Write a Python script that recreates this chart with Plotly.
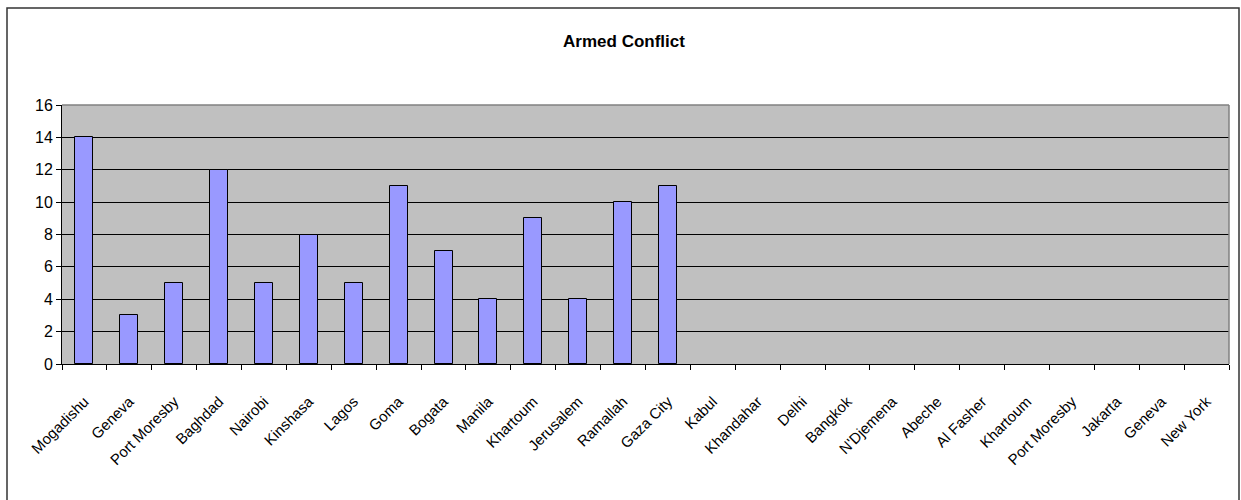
import plotly.graph_objects as go

cities = ["Mogadishu", "Geneva", "Port Moresby", "Baghdad", "Nairobi", "Kinshasa",
          "Lagos", "Goma", "Bogata", "Manila", "Khartoum", "Jerusalem", "Ramallah",
          "Gaza City", "Kabul", "Khandahar", "Delhi", "Bangkok", "N'Djemena", "Abeche",
          "Al Fasher", "Khartoum", "Port Moresby", "Jakarta", "Geneva", "New York"]
values = [14, 3, 5, 12, 5, 8, 5, 11, 7, 4, 9, 4, 10, 11,
          None, None, None, None, None, None, None, None, None, None, None, None]
y_ticks = [0, 2, 4, 6, 8, 10, 12, 14, 16]
title_text = "Armed Conflict"

positions = list(range(len(cities)))
boundaries = [p - 0.5 for p in positions] + [len(cities) - 0.5]

W, H = 1241, 500
L, R, T, B = 62, 12, 105, 136
pw, ph = W - L - R, H - T - B

def px_x(px):
    return (px - L) / pw

def px_y(py):
    return (H - B - py) / ph

fig = go.Figure()
fig.add_trace(go.Bar(
    x=positions, y=values, width=0.4,
    marker=dict(color="#9999FF", line=dict(color="#000000", width=1)),
    hoverinfo="x+y",
))

font = "Liberation Sans, Arial, sans-serif"
fig.update_layout(
    width=W, height=H,
    margin=dict(l=L, r=R, t=T, b=B, autoexpand=False),
    paper_bgcolor="#FFFFFF",
    plot_bgcolor="#C0C0C0",
    showlegend=False,
    bargap=0,
    title=dict(text="<b>" + title_text + "</b>", x=px_x(624), xref="paper", xanchor="center",
               y=1 - 41 / H, yanchor="middle",
               font=dict(family=font, size=17, color="#000000")),
    font=dict(family=font, color="#000000"),
)
fig.update_xaxes(
    range=[-0.5, len(cities) - 0.5],
    tickmode="array", tickvals=positions, ticktext=cities,
    tickangle=-45, ticks="", showgrid=False, zeroline=False,
    tickfont=dict(family=font, size=15, color="#000000"),
    ticklabelshift=0, ticklabelstandoff=22,
    showline=True, linecolor="#000000", linewidth=1,
    minor=dict(tickmode="array", tickvals=boundaries, ticks="outside", ticklen=5,
               tickcolor="#000000", tickwidth=1, showgrid=False),
    fixedrange=True,
)
fig.update_yaxes(
    range=[0, 16], tickmode="array", tickvals=y_ticks,
    ticks="outside", ticklen=5, tickcolor="#000000",
    showgrid=True, gridcolor="#000000", gridwidth=1, zeroline=False,
    showline=True, linecolor="#000000", linewidth=1,
    tickfont=dict(family=font, size=16, color="#000000"),
    fixedrange=True,
)

# gray top and right border of the plot area
fig.add_shape(type="line", xref="paper", yref="paper", x0=0, x1=1, y0=1, y1=1,
              line=dict(color="#808080", width=1.5), layer="above")
fig.add_shape(type="line", xref="paper", yref="paper", x0=1, x1=1, y0=0, y1=1,
              line=dict(color="#808080", width=1.5), layer="above")
# outer chart frame
fig.add_shape(type="rect", xref="paper", yref="paper",
              x0=px_x(7), x1=px_x(1239), y0=px_y(510), y1=px_y(8),
              line=dict(color="#333333", width=1.5), fillcolor="rgba(0,0,0,0)", layer="above")

fig.write_html("out.html")
